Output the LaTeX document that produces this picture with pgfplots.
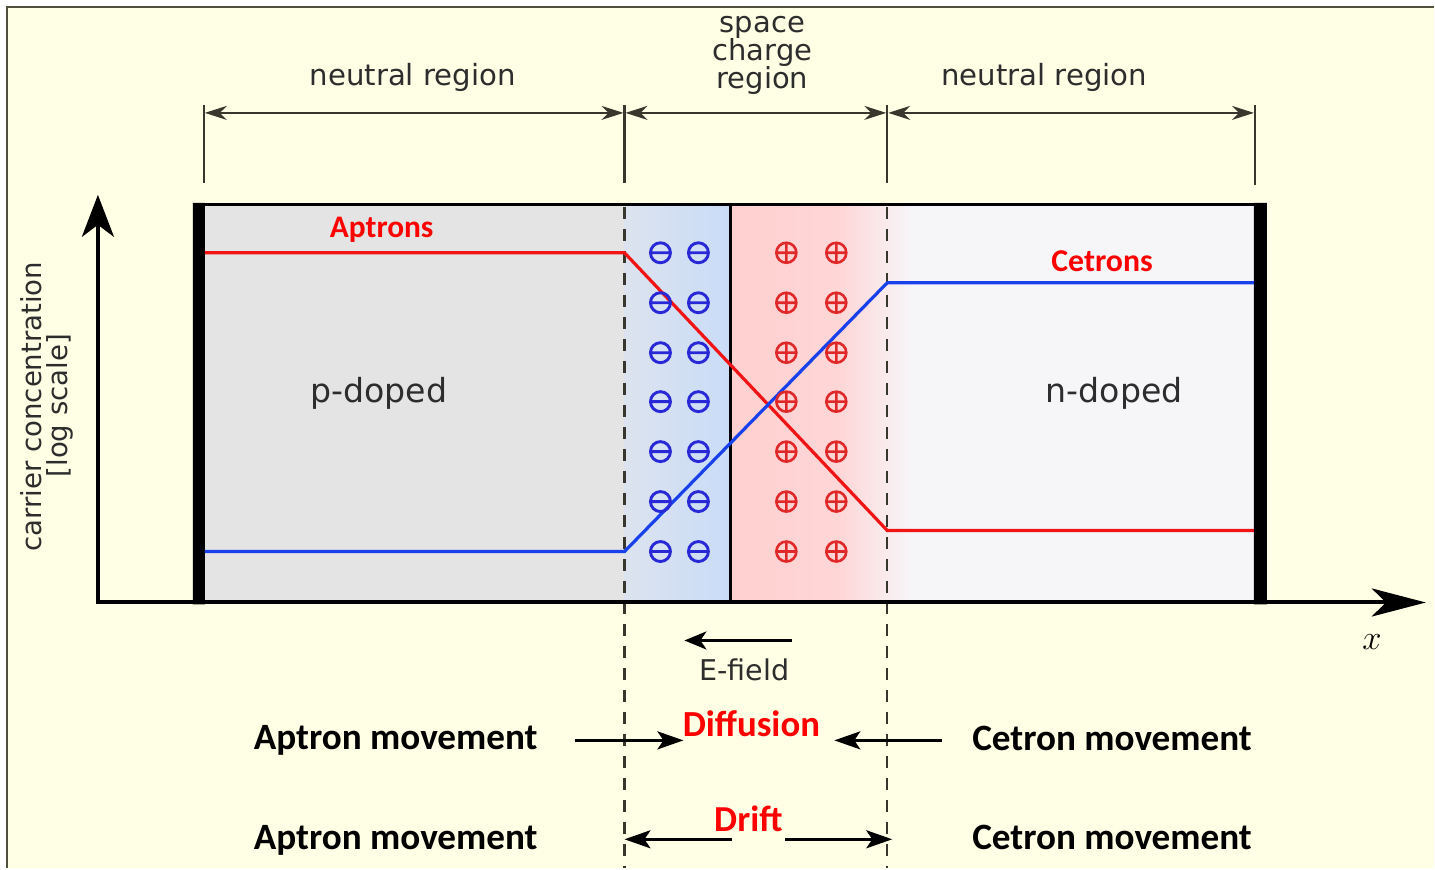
\documentclass[border=0pt]{standalone}
\usepackage{pgfplots}
\pgfplotsset{compat=1.18}
\usepackage{fontspec}
\setmainfont{DejaVu Sans}
\newfontfamily\calibri{Carlito}
\usetikzlibrary{arrows.meta}
\definecolor{bgyel}{RGB}{255,255,230}
\definecolor{frm}{RGB}{80,80,60}
\definecolor{pgray}{RGB}{228,228,228}
\definecolor{nwhite}{RGB}{246,246,249}
\definecolor{blL}{RGB}{220,227,238}
\definecolor{blR}{RGB}{201,220,248}
\definecolor{rdL}{RGB}{255,208,208}
\definecolor{rdM}{RGB}{255,214,214}
\definecolor{rdR}{RGB}{248,238,241}
\definecolor{linered}{RGB}{240,20,20}
\definecolor{lineblue}{RGB}{25,65,235}
\definecolor{minusblue}{RGB}{40,40,215}
\definecolor{plusred}{RGB}{225,40,40}
\definecolor{txt}{RGB}{45,45,45}
\definecolor{dimc}{RGB}{55,55,45}
\pgfdeclareplotmark{ominus}{%
  \pgfpathcircle{\pgfpoint{0pt}{0pt}}{\pgfplotmarksize}%
  \pgfpathmoveto{\pgfpoint{-\pgfplotmarksize}{0pt}}%
  \pgfpathlineto{\pgfpoint{\pgfplotmarksize}{0pt}}%
  \pgfusepathqstroke}
\begin{document}
\begin{tikzpicture}
\begin{axis}[width=717.5pt, height=434.5pt, scale only axis, hide axis,
  xmin=0, xmax=1435, ymin=0, ymax=869, y dir=reverse, clip=false]
% background
\addplot[draw=none, fill=white] coordinates {(0,0)(1435,0)(1435,869)(0,869)(0,0)};
\addplot[draw=none, fill=bgyel] coordinates {(7,7)(1435,7)(1435,869)(7,869)(7,7)};
\draw[frm, line width=1.2pt] (axis cs:1435,7) -- (axis cs:7,7) -- (axis cs:7,869);
% regions
\addplot[draw=none, fill=pgray] coordinates {(204,205)(625,205)(625,603)(204,603)(204,205)};
\addplot[draw=none, left color=blL, right color=blR] coordinates {(625,205)(731,205)(731,603)(625,603)(625,205)};
\addplot[draw=none, left color=rdL, right color=rdM] coordinates {(731,205)(840,205)(840,603)(731,603)(731,205)};
\addplot[draw=none, left color=rdM, right color=rdR] coordinates {(839,205)(895,205)(895,603)(839,603)(839,205)};
\addplot[draw=none, left color=rdR, right color=nwhite] coordinates {(894,205)(915,205)(915,603)(894,603)(894,205)};
\addplot[draw=none, fill=nwhite] coordinates {(914,205)(1256,205)(1256,603)(914,603)(914,205)};
% box
\draw[black, line width=1.6pt] (axis cs:193,205) -- (axis cs:1268,205);
\addplot[draw=none, fill=black] coordinates {(193,203)(205,203)(205,605)(193,605)(193,203)};
\addplot[draw=none, fill=black] coordinates {(1255,203)(1268,203)(1268,605)(1255,605)(1255,203)};
\draw[black, line width=1.5pt] (axis cs:731,205) -- (axis cs:731,603);
% dashed
\draw[dimc, line width=1.2pt, dash pattern=on 6pt off 5pt] (axis cs:625,207) -- (axis cs:625,869);
\draw[dimc, line width=1.2pt, dash pattern=on 6pt off 5pt] (axis cs:888,207) -- (axis cs:888,869);
% axes
\draw[black, line width=2pt, -{Stealth[length=21pt,width=16pt,inset=6pt]}] (axis cs:98,605) -- (axis cs:98,195);
\draw[black, line width=2pt, -{Stealth[length=27pt,width=14pt,inset=7pt]}] (axis cs:96,603) -- (axis cs:1427,603);
% carrier lines
\addplot[linered, line width=1.6pt] coordinates {(205,253)(625,253)(888,531)(1255,531)};
\addplot[lineblue, line width=1.6pt] coordinates {(205,552)(625,552)(888,283)(1255,283)};
% charges
\addplot[only marks, mark=ominus, mark size=5pt, minusblue, line width=1.45pt] coordinates {
(661,253)(661,303)(661,353)(661,402)(661,452)(661,502)(661,552)
(699,253)(699,303)(699,353)(699,402)(699,452)(699,502)(699,552)};
\addplot[only marks, mark=oplus, mark size=5pt, plusred, line width=1.3pt] coordinates {
(787,253)(787,303)(787,353)(787,402)(787,452)(787,502)(787,552)
(837,253)(837,303)(837,353)(837,402)(837,452)(837,502)(837,552)};
% dimension lines
\draw[dimc, line width=1.2pt] (axis cs:204,105) -- (axis cs:204,183);
\draw[dimc, line width=1.2pt] (axis cs:625,105) -- (axis cs:625,183);
\draw[dimc, line width=1.2pt] (axis cs:888,105) -- (axis cs:888,183);
\draw[dimc, line width=1.2pt] (axis cs:1256,105) -- (axis cs:1256,185);
\tikzset{dimarr/.style={dimc, line width=1.1pt, {Stealth[length=11pt,width=7pt,inset=3.5pt]}-{Stealth[length=11pt,width=7pt,inset=3.5pt]}}}
\draw[dimarr] (axis cs:205,113) -- (axis cs:624,113);
\draw[dimarr] (axis cs:626,113) -- (axis cs:887,113);
\draw[dimarr] (axis cs:889,113) -- (axis cs:1255,113);
% texts top
\node[anchor=base, text=txt, font=\fontsize{14.6}{16}\selectfont] at (axis cs:413,86) {neutral region};
\node[anchor=base, text=txt, font=\fontsize{14.6}{16}\selectfont] at (axis cs:1045,86) {neutral region};
\node[anchor=base, text=txt, font=\fontsize{14.5}{16}\selectfont] at (axis cs:763,33) {space};
\node[anchor=base, text=txt, font=\fontsize{14.5}{16}\selectfont] at (axis cs:763,61) {charge};
\node[anchor=base, text=txt, font=\fontsize{14.5}{16}\selectfont] at (axis cs:763,89) {region};
% inner labels
\node[anchor=base, text=red, font=\calibri\bfseries\fontsize{15.7}{18}\selectfont] at (axis cs:382,238) {Aptrons};
\node[anchor=base, text=red, font=\calibri\bfseries\fontsize{15.9}{18}\selectfont] at (axis cs:1103,272) {Cetrons};
\node[anchor=base, text=txt, font=\fontsize{16.6}{18}\selectfont] at (axis cs:379,403) {p-doped};
\node[anchor=base, text=txt, font=\fontsize{16.6}{18}\selectfont] at (axis cs:1115,403) {n-doped};
% y label
\node[anchor=base, rotate=90, text=txt, font=\fontsize{13.8}{16}\selectfont] at (axis cs:42,407) {carrier concentration};
\node[anchor=base, rotate=90, text=txt, font=\fontsize{13.8}{16}\selectfont] at (axis cs:68,406) {[log scale]};
\node[anchor=base, text=black, font=\fontsize{18}{20}\selectfont] at (axis cs:1373,650) {$x$};
% E-field
\draw[black, line width=1.5pt, -{Stealth[length=11pt,width=9pt,inset=3pt]}] (axis cs:793,641) -- (axis cs:685,641);
\node[anchor=base, text=txt, font=\fontsize{14.3}{16}\selectfont] at (axis cs:745,681) {E-field};
% movement rows
\tikzset{mv/.style={black, line width=1.5pt, -{Stealth[length=13pt,width=9pt,inset=3pt]}}}
\draw[mv] (axis cs:575,741) -- (axis cs:684,741);
\draw[mv] (axis cs:943,741) -- (axis cs:835,741);
\draw[mv] (axis cs:733,840) -- (axis cs:625,840);
\draw[mv] (axis cs:786,840) -- (axis cs:893,840);
\node[anchor=base, text=black, font=\calibri\bfseries\fontsize{18.6}{22}\selectfont] at (axis cs:396,750) {Aptron movement};
\node[anchor=base, text=black, font=\calibri\bfseries\fontsize{18.6}{22}\selectfont] at (axis cs:396,850) {Aptron movement};
\node[anchor=base, text=black, font=\calibri\bfseries\fontsize{18.6}{22}\selectfont] at (axis cs:1113,751) {Cetron movement};
\node[anchor=base, text=black, font=\calibri\bfseries\fontsize{18.6}{22}\selectfont] at (axis cs:1113,850) {Cetron movement};
\node[anchor=base, text=red, font=\calibri\bfseries\fontsize{18.4}{22}\selectfont] at (axis cs:752,737) {Diffusion};
\node[anchor=base, text=red, font=\calibri\bfseries\fontsize{18.3}{22}\selectfont] at (axis cs:749,832) {Drift};
\end{axis}
\end{tikzpicture}
\end{document}
